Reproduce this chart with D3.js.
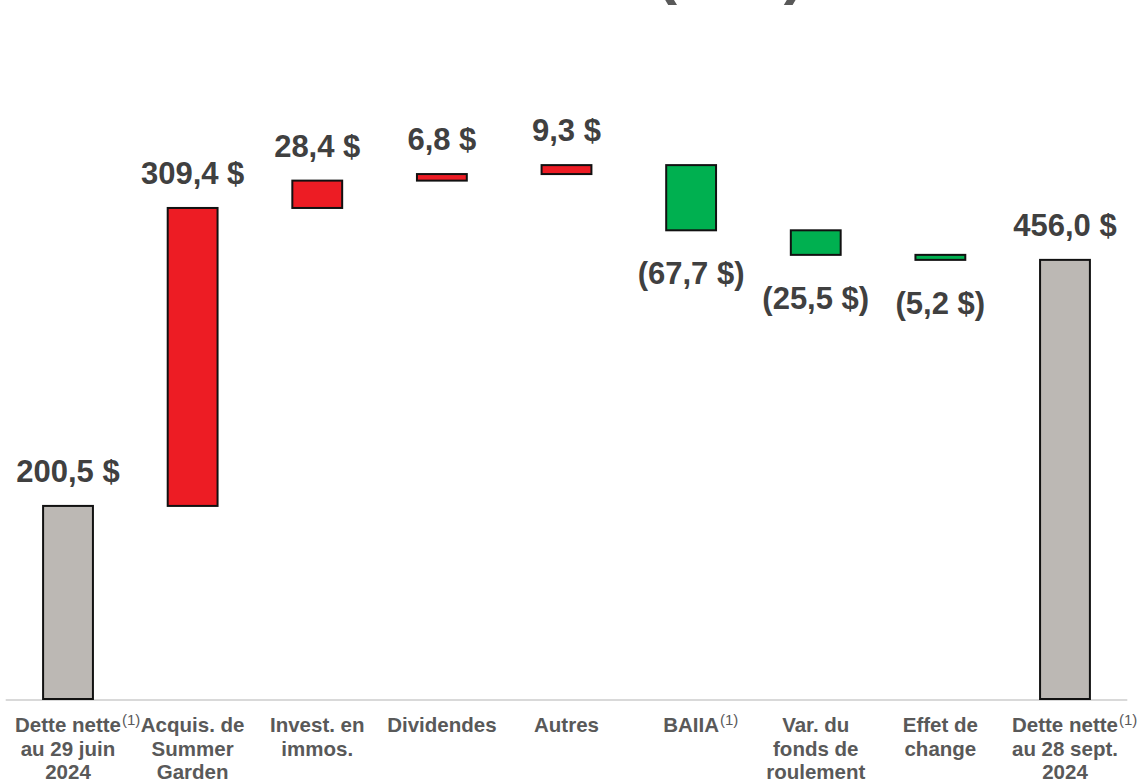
<!DOCTYPE html>
<html>
<head>
<meta charset="utf-8">
<script src="https://cdn.jsdelivr.net/npm/d3@7/dist/d3.min.js"></script>
<style>
  body { margin: 0; background: #fff; }
  svg { display: block; font-family: "Liberation Sans", Arial, sans-serif; }
</style>
</head>
<body>
<svg width="1148" height="784"></svg>
<script>
// categories, one entry per line of the tick label
var categories = [
  ["Dette nette", "au 29 juin", "2024"],
  ["Acquis. de", "Summer", "Garden"],
  ["Invest. en", "immos."],
  ["Dividendes"],
  ["Autres"],
  ["BAIIA"],
  ["Var. du", "fonds de", "roulement"],
  ["Effet de", "change"],
  ["Dette nette", "au 28 sept.", "2024"]
];
var notes = ["(1)", "", "", "", "", "(1)", "", "", "(1)"];
var values = [200.5, 309.4, 28.4, 6.8, 9.3, -67.7, -25.5, -5.2, 456.0];
var kinds = ["total", "step", "step", "step", "step", "step", "step", "step", "total"];

var width = 1148, height = 784;
var svg = d3.select("svg");

var x = d3.scaleBand()
  .domain(d3.range(categories.length))
  .range([5.7, 1127.3])
  .paddingInner(0.6)
  .paddingOuter(0.3);

var y = d3.scaleLinear().domain([0, 600]).range([699, 121.2]);

// running totals for the waterfall
var run = 0;
var bars = values.map(function (v, i) {
  var lo, hi;
  if (kinds[i] === "total") {
    lo = 0; hi = v; run = v;
  } else {
    lo = run; hi = run + v; run = hi;
  }
  return { i: i, v: v, kind: kinds[i], y0: Math.min(lo, hi), y1: Math.max(lo, hi) };
});

function barColor(d) {
  if (d.kind === "total") return "#bcb8b4";
  return d.v >= 0 ? "#ed1c24" : "#00b050";
}

function fmt(v) {
  var s = d3.format(".1f")(Math.abs(v)).replace(".", ",") + " $";
  return v < 0 ? "(" + s + ")" : s;
}

// title, mostly above the top edge in the original
svg.append("text")
  .attr("x", 805).attr("y", -8)
  .attr("text-anchor", "end")
  .attr("font-size", 64).attr("font-weight", "bold")
  .attr("fill", "#595959")
  .text("Dette nette (M $)");

// baseline
svg.append("line")
  .attr("x1", 5.7).attr("x2", 1127.3)
  .attr("y1", y(0) + 1).attr("y2", y(0) + 1)
  .attr("stroke", "#d9d9d9").attr("stroke-width", 2);

svg.append("g").selectAll("rect")
  .data(bars)
  .enter().append("rect")
    .attr("x", function (d) { return x(d.i); })
    .attr("y", function (d) { return y(d.y1); })
    .attr("width", x.bandwidth())
    .attr("height", function (d) { return y(d.y0) - y(d.y1); })
    .attr("fill", barColor)
    .attr("stroke", "#111")
    .attr("stroke-width", 2);

// value labels
svg.append("g").selectAll("text")
  .data(bars)
  .enter().append("text")
    .attr("x", function (d) { return x(d.i) + x.bandwidth() / 2; })
    .attr("y", function (d) {
      if (d.kind === "step" && d.v < 0) return y(d.y0) + 54;
      return y(d.y1) - 24;
    })
    .attr("text-anchor", "middle")
    .attr("font-size", 31).attr("font-weight", "bold")
    .attr("fill", "#404040")
    .text(function (d) { return fmt(d.v); });

// category labels
var cat = svg.append("g").selectAll("g")
  .data(categories)
  .enter().append("g");

cat.each(function (lines, i) {
  var g = d3.select(this);
  var cx = x(i) + x.bandwidth() / 2;
  lines.forEach(function (ln, k) {
    var t = g.append("text")
      .attr("x", cx).attr("y", 732 + k * 23.5)
      .attr("text-anchor", "middle")
      .attr("font-size", 20.5).attr("font-weight", "bold")
      .attr("fill", "#595959")
      .text(ln);
    if (k === 0 && notes[i]) {
      var w = t.node().getComputedTextLength();
      g.append("text")
        .attr("x", cx + w / 2 + 1).attr("y", 725)
        .attr("font-size", 15)
        .attr("fill", "#595959")
        .text(notes[i]);
    }
  });
});
</script>
</body>
</html>
